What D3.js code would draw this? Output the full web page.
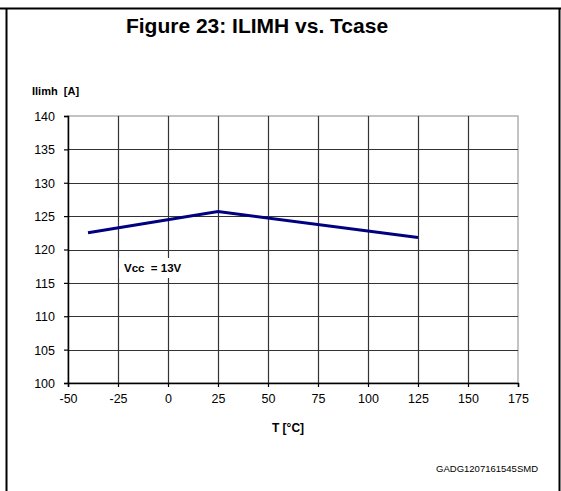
<!DOCTYPE html>
<html><head><meta charset="utf-8">
<script src="https://cdn.jsdelivr.net/npm/d3@7"></script>
<style>
html,body{margin:0;padding:0;background:#fff;}
svg{display:block;font-family:Arial,"Liberation Sans",sans-serif;}
</style></head>
<body>
<svg id="c" width="561" height="491"></svg>
<script>
const temps = [-40, 25, 125];
const ilimh = [122.5, 125.7, 121.8];
const xTicks = [-50, -25, 0, 25, 50, 75, 100, 125, 150, 175];
const yTicks = [100, 105, 110, 115, 120, 125, 130, 135, 140];
const title = "Figure 23: ILIMH vs. Tcase";
const yLabel = "Ilimh  [A]";
const xLabel = "T [°C]";
const note = "Vcc  = 13V";
const code = "GADG1207161545SMD";

const svg = d3.select("#c");
const x = d3.scaleLinear().domain([-50, 175]).range([68, 518]);
const y = d3.scaleLinear().domain([100, 140]).range([383, 116]);

// outer frame
svg.append("line").attr("x1",0).attr("x2",561).attr("y1",8.5).attr("y2",8.5).attr("stroke","#000").attr("stroke-width",2);
svg.append("line").attr("x1",6.5).attr("x2",6.5).attr("y1",8).attr("y2",491).attr("stroke","#000").attr("stroke-width",2);
svg.append("line").attr("x1",559.5).attr("x2",559.5).attr("y1",8).attr("y2",491).attr("stroke","#000").attr("stroke-width",2);

// title
svg.append("text").attr("x",257).attr("y",33).attr("text-anchor","middle")
  .attr("font-size",21).attr("font-weight","bold").text(title);
svg.append("text").attr("x",32).attr("y",95).attr("font-size",11).attr("font-weight","bold").style("white-space","pre").text(yLabel);

// plot frame (top/right light gray)
svg.append("rect").attr("x",x(-50)).attr("y",y(140)).attr("width",x(175)-x(-50)).attr("height",y(100)-y(140))
  .attr("fill","none").attr("stroke","#b0b0b0").attr("stroke-width",1.5);

// grid
const g = svg.append("g");
g.selectAll(".vg").data(xTicks.filter(d=>d>-50 && d<175)).join("line")
  .attr("x1",d=>Math.round(x(d))+0.5).attr("x2",d=>Math.round(x(d))+0.5)
  .attr("y1",y(140)).attr("y2",y(100)).attr("stroke","#333").attr("stroke-width",1.2);
g.selectAll(".hg").data(yTicks.filter(d=>d>100 && d<140)).join("line")
  .attr("x1",x(-50)).attr("x2",x(175))
  .attr("y1",d=>Math.round(y(d))+0.5).attr("y2",d=>Math.round(y(d))+0.5).attr("stroke","#333").attr("stroke-width",1.2);

// axes
const xAxis = d3.axisBottom(x).tickValues(xTicks).tickSize(4).tickPadding(7).tickFormat(d=>String(d));
const yAxis = d3.axisLeft(y).tickValues(yTicks).tickSize(4).tickPadding(9).tickFormat(d=>String(d));
const xa = svg.append("g").attr("transform",`translate(0,${y(100)})`).call(xAxis);
const ya = svg.append("g").attr("transform",`translate(${x(-50)},0)`).call(yAxis);
[xa,ya].forEach(a=>{
  a.select(".domain").attr("stroke","#000").attr("stroke-width",1.5);
  a.selectAll(".tick line").attr("stroke","#000").attr("stroke-width",1.2);
  a.selectAll("text").attr("font-size",12.5).attr("fill","#000").attr("font-family","Arial,'Liberation Sans',sans-serif");
});
ya.selectAll("text").attr("dy","0.35em");

// series
const data = temps.map((t,i)=>({t, v: ilimh[i]}));
svg.append("path").datum(data)
  .attr("d", d3.line().x(d=>x(d.t)).y(d=>y(d.v)))
  .attr("fill","none").attr("stroke","#000080").attr("stroke-width",3);

// labels
svg.append("rect").attr("x",119).attr("y",258).attr("width",72).attr("height",20).attr("fill","#fff");
svg.append("text").attr("x",124).attr("y",272).attr("font-size",11.5).attr("font-weight","bold").style("white-space","pre").text(note);
svg.append("text").attr("x",288).attr("y",432).attr("text-anchor","middle").attr("font-size",12).attr("font-weight","bold").text(xLabel);
svg.append("text").attr("x",538).attr("y",472).attr("text-anchor","end").attr("font-size",9.5).text(code);
</script>
</body></html>
